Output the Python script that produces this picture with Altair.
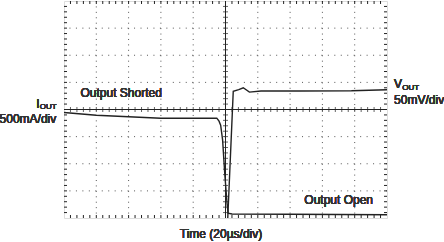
import altair as alt
import pandas as pd

# Trace data (x in time divisions 0..10, y in vertical divisions -4..4)
i_time = [0, 1, 2, 3, 4, 4.73, 4.80, 4.85, 4.91, 4.98, 5.05, 5.08, 5.2, 7.0, 10]
i_level = [-0.11, -0.21, -0.27, -0.32, -0.32, -0.32, -0.43, -0.58, -1.12, -2.41, -3.5, -3.82, -3.85, -3.86, -3.88]
v_time = [5.07, 5.24, 5.41, 5.55, 5.74, 6.1, 7.3, 8.9, 10]
v_level = [-4.0, 0.67, 0.73, 0.80, 0.64, 0.68, 0.68, 0.69, 0.73]

x_major = [1, 2, 3, 4, 6, 7, 8, 9]
y_major = [-3, -2, -1, 1, 2, 3]
x_minor = [round(0.2 * k, 2) for k in range(1, 50)]
y_minor = [round(-4 + 0.2 * k, 2) for k in range(1, 40)]

W, H = 323, 217
INK = "#222222"
FONT = "Arial, Liberation Sans, sans-serif"

xs = alt.Scale(domain=[0, 10], nice=False, zero=False)
ys = alt.Scale(domain=[-4, 4], nice=False, zero=False)

traces = pd.DataFrame(
    {"t": i_time + v_time,
     "v": i_level + v_level,
     "s": ["I"] * len(i_time) + ["V"] * len(v_time),
     "o": list(range(len(i_time))) + list(range(len(v_time)))}
)
xmaj = pd.DataFrame({"x": x_major})
ymaj = pd.DataFrame({"y": y_major})
xmin = pd.DataFrame({"x": x_minor})
ymin = pd.DataFrame({"y": y_minor})

vgrid = alt.Chart(xmaj).mark_rule(color="#555555", strokeWidth=1, strokeDash=[1, 4.425]).encode(
    x=alt.X("x:Q", scale=xs, axis=None))
hgrid = alt.Chart(ymaj).mark_rule(color="#555555", strokeWidth=1, strokeDash=[1, 5.46]).encode(
    y=alt.Y("y:Q", scale=ys, axis=None))

center_v = alt.Chart(xmaj).mark_rule(color=INK, strokeWidth=1).encode(x=alt.datum(5, scale=xs))
center_h = alt.Chart(ymaj).mark_rule(color=INK, strokeWidth=1).encode(y=alt.datum(0, scale=ys))

ctick_x = alt.Chart(xmin).mark_tick(color=INK, orient="vertical", size=5, thickness=1).encode(
    x=alt.X("x:Q", scale=xs), y=alt.datum(0, scale=ys))
ctick_y = alt.Chart(ymin).mark_tick(color=INK, orient="horizontal", size=5, thickness=1).encode(
    y=alt.Y("y:Q", scale=ys), x=alt.datum(5, scale=xs))

top_t = alt.Chart(xmin).mark_rule(color=INK, strokeWidth=1).encode(
    x=alt.X("x:Q", scale=xs), y=alt.value(0), y2=alt.value(3))
bot_t = alt.Chart(xmin).mark_rule(color=INK, strokeWidth=1).encode(
    x=alt.X("x:Q", scale=xs), y=alt.value(H), y2=alt.value(H - 3))
left_t = alt.Chart(ymin).mark_rule(color=INK, strokeWidth=1).encode(
    y=alt.Y("y:Q", scale=ys), x=alt.value(0), x2=alt.value(3))
right_t = alt.Chart(ymin).mark_rule(color=INK, strokeWidth=1).encode(
    y=alt.Y("y:Q", scale=ys), x=alt.value(W), x2=alt.value(W - 3))

lines = alt.Chart(traces).mark_line(color=INK, strokeWidth=1.4, clip=True).encode(
    x=alt.X("t:Q", scale=xs), y=alt.Y("v:Q", scale=ys), detail="s:N", order="o:Q")


def label(text, x, y, size=12, align="left"):
    return alt.Chart(xmaj).mark_text(
        text=text, font=FONT, fontSize=size, fontWeight="normal", color="#333333",
        align=align, baseline="alphabetic"
    ).encode(x=alt.datum(x, scale=xs), y=alt.datum(y, scale=ys))


labels = [
    label("Output Shorted", 0.51, 0.47),
    label("Output Open", 7.44, -3.48),
    label("Time (20µs/div)", 4.86, -4.74, align="center"),
    label("V", 10.22, 0.80),
    label("OUT", 10.47, 0.73, size=8),
    label("50mV/div", 10.22, 0.22),
    label("I", -0.86, 0.07),
    label("OUT", -0.75, 0.01, size=8),
    label("500mA/div", -0.24, -0.51, align="right"),
]

chart = alt.layer(
    vgrid, hgrid, center_v, center_h, ctick_x, ctick_y,
    top_t, bot_t, left_t, right_t, lines, *labels
).properties(
    width=W, height=H, autosize="none",
    padding={"left": 64, "top": 1, "right": 57, "bottom": 24},
).configure_view(stroke=INK, strokeWidth=1.2).configure(background="white")

chart.save("out.html", embed_options={"renderer": "svg", "actions": False})
